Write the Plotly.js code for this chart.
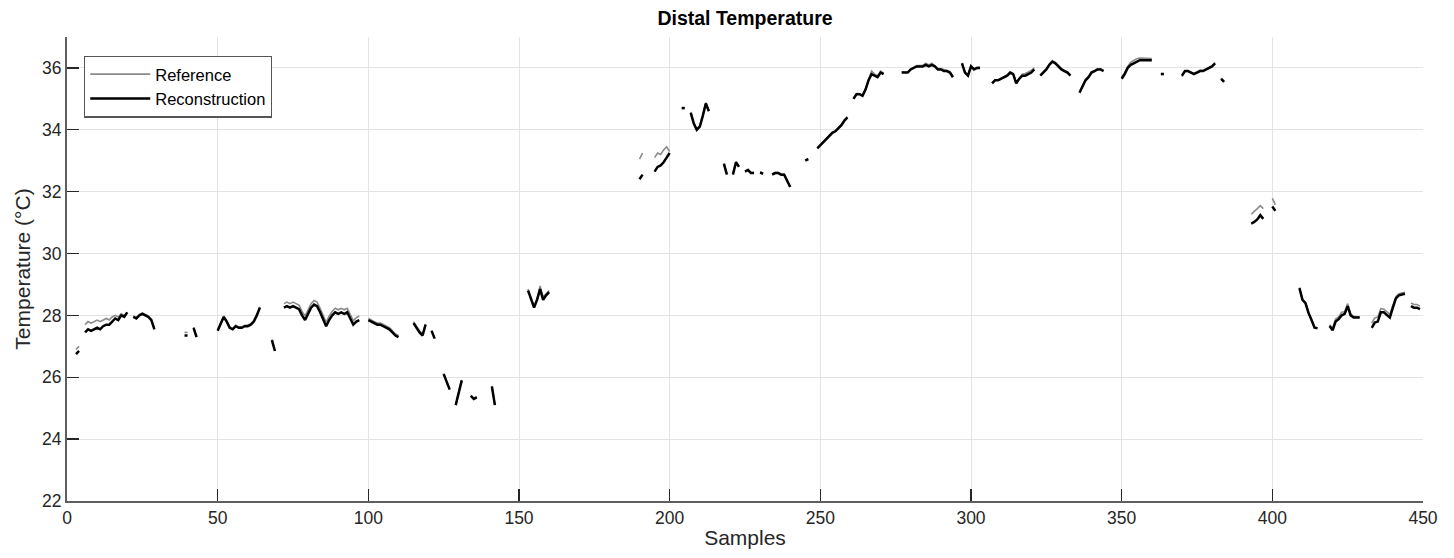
<!DOCTYPE html>
<html>
<head>
<meta charset="utf-8">
<script src="https://cdn.plot.ly/plotly-3.0.1.min.js"></script>
<style>html,body{margin:0;padding:0;background:#fff;}#chart{width:1454px;height:558px;}</style>
</head>
<body>
<div id="chart"></div>
<script>
// Sample indices; null separates the gaps between measured stretches
const samples = [
  3,4,null,
  6,7,8,9,10,11,12,13,14,15,16,17,18,19,20,null,
  22,23,24,25,26,27,28,29,null,
  39,40,null,
  42,43,null,
  50,51,52,53,54,55,56,57,58,59,60,61,62,63,64,null,
  68,69,null,
  72,73,74,75,76,77,78,79,80,81,82,83,84,85,86,87,88,89,90,91,92,93,94,95,96,97,null,
  100,101,102,103,104,105,106,107,108,109,110,null,
  115,116,117,118,119,null,
  121,122,null,
  125,126,127,null,
  129,130,131,null,
  134,135,136,null,
  141,142,null,
  153,154,155,156,157,158,159,160,null,
  190,191,null,
  195,196,197,198,199,200,null,
  204,205,null,
  207,208,209,210,211,212,213,null,
  218,219,null,
  221,222,223,null,
  225,226,227,228,null,
  230,231,null,
  234,235,236,237,238,239,240,null,
  245,246,null,
  249,250,251,252,253,254,255,256,257,258,259,null,
  261,262,263,264,265,266,267,268,269,270,271,null,
  277,278,279,280,281,282,283,284,285,286,287,288,289,290,291,292,293,294,null,
  297,298,299,300,301,302,303,null,
  307,308,309,310,311,312,313,314,315,316,317,318,319,320,321,null,
  323,324,325,326,327,328,329,330,331,332,333,null,
  336,337,338,339,340,341,342,343,344,null,
  350,351,352,353,354,355,356,357,358,359,360,null,
  363,364,null,
  370,371,372,373,374,375,376,377,378,379,380,381,null,
  383,384,null,
  393,394,395,396,397,null,
  400,401,null,
  409,410,411,412,413,414,415,null,
  419,420,421,422,423,424,425,426,427,428,429,null,
  433,434,435,436,437,438,439,440,441,442,443,444,null,
  446,447,448,449
];

// Reference temperature (°C)
const referenceTemp = [
  26.9,27.0,null,
  27.7,27.8,27.75,27.8,27.85,27.8,27.85,27.9,27.85,27.95,28.0,27.95,28.05,28.0,28.1,null,
  27.98,27.93,28.03,28.08,28.03,27.98,27.88,27.58,null,
  27.45,27.45,null,
  27.62,27.32,null,
  27.53,27.78,27.98,27.83,27.63,27.58,27.68,27.63,27.63,27.68,27.68,27.73,27.83,28.03,28.28,null,
  27.22,26.87,null,
  28.38,28.43,28.38,28.43,28.38,28.33,28.13,27.98,28.18,28.38,28.48,28.43,28.23,27.98,27.78,27.98,28.13,28.23,28.18,28.23,28.18,28.23,28.03,27.83,27.93,27.98,null,
  27.9,27.85,27.8,27.75,27.75,27.7,27.65,27.6,27.5,27.4,27.35,null,
  27.8,27.65,27.5,27.4,27.72,null,
  27.52,27.27,null,
  26.12,25.87,25.62,null,
  25.12,25.52,25.92,null,
  25.42,25.32,25.37,null,
  25.72,25.12,null,
  28.85,28.55,28.3,28.55,28.95,28.6,28.7,28.8,null,
  33.05,33.25,null,
  33.1,33.25,33.2,33.35,33.45,33.3,null,
  34.72,34.72,null,
  34.58,34.23,34.03,34.13,34.48,34.88,34.63,null,
  32.92,32.57,null,
  32.57,32.97,32.82,null,
  32.67,32.72,32.62,32.62,null,
  32.64,32.6,null,
  32.57,32.62,32.62,32.57,32.57,32.37,32.17,null,
  33.02,33.07,null,
  33.42,33.52,33.62,33.72,33.82,33.92,33.97,34.07,34.17,34.32,34.42,null,
  35.02,35.17,35.17,35.12,35.32,35.65,35.9,35.8,35.75,35.9,35.83,null,
  35.87,35.87,35.87,35.97,36.02,36.08,36.08,36.08,36.15,36.1,36.15,36.08,35.98,35.98,35.95,35.93,35.88,35.72,null,
  36.17,35.87,35.77,36.07,35.97,36.02,36.02,null,
  35.52,35.62,35.62,35.67,35.72,35.77,35.87,35.82,35.52,35.67,35.8,35.82,35.87,35.92,36.0,null,
  35.77,35.87,35.97,36.12,36.24,36.18,36.08,35.98,35.92,35.87,35.77,null,
  35.22,35.42,35.62,35.72,35.87,35.92,35.97,35.97,35.92,null,
  35.7,35.85,36.05,36.18,36.24,36.3,36.32,36.32,36.32,36.3,36.3,null,
  35.82,35.82,null,
  35.72,35.88,35.9,35.87,35.82,35.87,35.92,35.92,35.97,36.02,36.07,36.17,null,
  35.67,35.57,null,
  31.27,31.35,31.45,31.55,31.45,null,
  31.78,31.58,null,
  28.9,28.52,28.42,28.1,27.87,27.62,27.6,null,
  27.7,27.58,27.88,27.95,28.1,28.12,28.38,28.05,27.97,27.95,27.95,null,
  27.75,27.92,27.95,28.22,28.2,28.1,28.03,28.32,28.6,28.7,28.73,28.75,null,
  28.4,28.35,28.35,28.3
];

// Reconstruction temperature (°C)
const reconstructionTemp = [
  26.75,26.85,null,
  27.45,27.55,27.5,27.55,27.6,27.55,27.65,27.7,27.7,27.8,27.9,27.85,28.0,27.95,28.1,null,
  27.95,27.9,28.0,28.05,28.0,27.95,27.85,27.55,null,
  27.35,27.35,null,
  27.6,27.3,null,
  27.5,27.75,27.95,27.8,27.6,27.55,27.65,27.6,27.6,27.65,27.65,27.7,27.8,28.0,28.25,null,
  27.2,26.85,null,
  28.25,28.3,28.25,28.3,28.25,28.2,28.0,27.85,28.05,28.25,28.35,28.3,28.1,27.85,27.65,27.85,28.0,28.1,28.05,28.1,28.05,28.1,27.9,27.7,27.8,27.85,null,
  27.85,27.8,27.75,27.7,27.7,27.65,27.6,27.55,27.45,27.35,27.3,null,
  27.75,27.6,27.45,27.35,27.7,null,
  27.5,27.25,null,
  26.1,25.85,25.6,null,
  25.1,25.5,25.9,null,
  25.4,25.3,25.35,null,
  25.7,25.1,null,
  28.8,28.5,28.25,28.5,28.85,28.5,28.65,28.75,null,
  32.4,32.55,null,
  32.65,32.8,32.85,32.95,33.1,33.25,null,
  34.7,34.7,null,
  34.55,34.2,34.0,34.1,34.45,34.85,34.6,null,
  32.9,32.55,null,
  32.55,32.95,32.8,null,
  32.65,32.7,32.6,32.6,null,
  32.62,32.58,null,
  32.55,32.6,32.6,32.55,32.55,32.35,32.15,null,
  33.0,33.05,null,
  33.4,33.5,33.6,33.7,33.8,33.9,33.95,34.05,34.15,34.3,34.4,null,
  35.0,35.15,35.15,35.1,35.3,35.6,35.8,35.75,35.7,35.85,35.8,null,
  35.85,35.85,35.85,35.95,36.0,36.05,36.05,36.05,36.1,36.05,36.1,36.05,35.95,35.95,35.9,35.9,35.85,35.7,null,
  36.15,35.85,35.75,36.05,35.95,36.0,36.0,null,
  35.5,35.6,35.6,35.65,35.7,35.75,35.85,35.8,35.5,35.65,35.75,35.75,35.8,35.85,35.95,null,
  35.75,35.85,35.95,36.1,36.2,36.15,36.05,35.95,35.9,35.85,35.75,null,
  35.2,35.4,35.6,35.7,35.85,35.9,35.95,35.95,35.9,null,
  35.65,35.8,36.0,36.1,36.15,36.2,36.25,36.25,36.25,36.25,36.25,null,
  35.8,35.8,null,
  35.75,35.9,35.9,35.85,35.8,35.85,35.9,35.9,35.95,36.0,36.05,36.15,null,
  35.65,35.55,null,
  30.97,31.02,31.1,31.24,31.12,null,
  31.52,31.38,null,
  28.88,28.5,28.4,28.08,27.85,27.6,27.58,null,
  27.66,27.52,27.8,27.88,28.0,28.05,28.3,28.0,27.93,27.93,27.93,null,
  27.6,27.77,27.8,28.1,28.1,28.0,27.93,28.25,28.55,28.65,28.68,28.7,null,
  28.3,28.25,28.25,28.2
];

const xTickVals = [0,50,100,150,200,250,300,350,400,450];
const yTickVals = [22,24,26,28,30,32,34,36];

const FONT = '"Liberation Sans", Arial, Helvetica, sans-serif';

const traces = [
  {
    x: samples, y: referenceTemp, name: 'Reference', type: 'scatter', mode: 'lines',
    line: {color: '#8a8a8a', width: 1.6}, connectgaps: false
  },
  {
    x: samples, y: reconstructionTemp, name: 'Reconstruction', type: 'scatter', mode: 'lines',
    line: {color: '#000000', width: 2.5}, connectgaps: false
  }
];

const layout = {
  width: 1454, height: 558,
  margin: {l: 67, r: 31, t: 37, b: 57},
  paper_bgcolor: '#ffffff', plot_bgcolor: '#ffffff',
  font: {family: FONT, color: '#262626', size: 17},
  title: {
    text: '<b>Distal Temperature</b>',
    font: {family: FONT, size: 19.5, color: '#000000'},
    x: 0.5, xref: 'paper', xanchor: 'center',
    y: 1 - 18/558, yref: 'container', yanchor: 'middle'
  },
  xaxis: {
    range: [0, 450], tickvals: xTickVals,
    showgrid: true, gridcolor: '#e3e3e3', gridwidth: 1,
    zeroline: false,
    showline: true, linecolor: '#5e5e5e', linewidth: 2,
    ticks: 'inside', ticklen: 12, tickwidth: 1.3, tickcolor: '#262626',
    tickfont: {family: FONT, size: 17.5, color: '#262626'},
    title: {text: 'Samples', font: {family: FONT, size: 21, color: '#262626'}, standoff: 3}
  },
  yaxis: {
    range: [22, 37], tickvals: yTickVals,
    showgrid: true, gridcolor: '#e3e3e3', gridwidth: 1,
    zeroline: false,
    showline: true, linecolor: '#5e5e5e', linewidth: 2,
    ticks: 'inside', ticklen: 12, tickwidth: 1.3, tickcolor: '#262626',
    tickfont: {family: FONT, size: 17.5, color: '#262626'},
    title: {text: 'Temperature (°C)', font: {family: FONT, size: 21, color: '#262626'}, standoff: 6}
  },
  showlegend: true,
  legend: {
    x: 0.0125, y: 0.96, xanchor: 'left', yanchor: 'top',
    bgcolor: '#ffffff', bordercolor: '#555555', borderwidth: 1.3,
    font: {family: FONT, size: 16.5, color: '#000000'},
    itemwidth: 60, tracegroupgap: 0
  }
};

Plotly.newPlot('chart', traces, layout, {displayModeBar: false, staticPlot: true});
</script>
</body>
</html>
